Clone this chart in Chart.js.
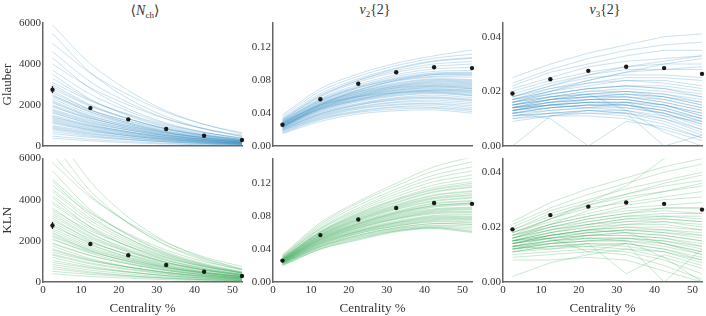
<!DOCTYPE html>
<html>
<head>
<meta charset="utf-8">
<script src="https://cdn.jsdelivr.net/npm/chart.js@4"></script>
<style>
body { margin: 0; background: #fff; width: 706px; height: 316px; position: relative; overflow: hidden; font-family: "Liberation Serif", "DejaVu Serif", serif; }
canvas { position: absolute; }
.ttl { position: absolute; top: 2px; width: 200px; text-align: center; font-size: 14px; color: #333; }
.ttl i { font-style: italic; }
.ttl sub { font-size: 9px; vertical-align: -3px; }
</style>
</head>
<body>
<div class="ttl" style="left:45px">&#10216;<i>N</i><sub>ch</sub>&#10217;</div>
<div class="ttl" style="left:275px"><i>v</i><sub>2</sub>{2}</div>
<div class="ttl" style="left:505px"><i>v</i><sub>3</sub>{2}</div>
<canvas id="c0"></canvas>
<canvas id="c1"></canvas>
<canvas id="c2"></canvas>
<canvas id="c3"></canvas>
<canvas id="c4"></canvas>
<canvas id="c5"></canvas>
<script>
// centrality bins (%)
const centrality = [2.5, 12.5, 22.5, 32.5, 42.5, 52.5];
const xTicks = [0, 10, 20, 30, 40, 50];
const nchTicks = [0, 2000, 4000, 6000];
const v2Ticks = [0, 0.04, 0.08, 0.12];
const v3Ticks = [0, 0.02, 0.04];

// experimental points
const expNch = [2750, 1850, 1300, 830, 500, 290];
const errNch = [170, 90, 60, 40, 25, 15];
const expV2 = [0.026, 0.057, 0.076, 0.090, 0.096, 0.095];
const errV2 = [0.001, 0.001, 0.001, 0.001, 0.001, 0.001];
const expV3 = [0.0192, 0.0244, 0.0275, 0.0290, 0.0285, 0.0264];
const errV3 = [0.0005, 0.0005, 0.0005, 0.0005, 0.0005, 0.0005];

// model design curves, Glauber
const glauberNch = [
  [5900, 4010, 2710, 1710, 1060, 590], [5500, 3580, 2310, 1430, 850, 470],
  [5000, 3550, 2500, 1650, 1050, 650], [4600, 3130, 2120, 1330, 830, 460],
  [4300, 2800, 1810, 1120, 670, 370], [4000, 2840, 2000, 1320, 840, 520],
  [3700, 2520, 1700, 1070, 670, 370], [3500, 2280, 1470, 910, 540, 300],
  [3300, 2240, 1520, 960, 590, 330], [3100, 2200, 1550, 1020, 650, 400],
  [2900, 1970, 1330, 840, 520, 290], [2700, 1760, 1130, 700, 420, 230],
  [2600, 1770, 1200, 750, 470, 260], [2450, 1740, 1230, 810, 510, 320],
  [2300, 1560, 1060, 670, 410, 230], [2150, 1400, 900, 560, 330, 180],
  [2000, 1360, 920, 580, 360, 200], [1900, 1350, 950, 630, 400, 250],
  [1750, 1190, 800, 510, 320, 175], [1650, 1070, 690, 430, 260, 140],
  [1500, 1020, 690, 435, 270, 150], [1400, 990, 700, 460, 295, 180],
  [1300, 880, 600, 380, 235, 130], [1200, 780, 500, 310, 185, 100],
  [1100, 750, 505, 320, 200, 110], [1000, 710, 500, 330, 210, 130],
  [900, 610, 415, 260, 160, 90], [800, 520, 335, 210, 125, 70],
  [700, 475, 320, 205, 125, 70], [600, 425, 300, 200, 125, 80],
  [480, 325, 220, 140, 86, 48], [380, 250, 160, 100, 60, 32],
  [3000, 2010, 1340, 830, 500, 270], [2800, 1930, 1320, 850, 540, 310],
  [2500, 1650, 1080, 660, 395, 215], [2400, 1660, 1130, 720, 450, 260],
  [2200, 1480, 990, 620, 380, 210], [2100, 1450, 1000, 650, 410, 240],
  [1950, 1290, 850, 530, 320, 175], [1800, 1240, 850, 545, 340, 195],
  [1700, 1150, 780, 490, 300, 165], [1600, 1110, 770, 500, 315, 185],
  [1450, 970, 650, 410, 250, 135], [1350, 930, 640, 410, 260, 150],
  [1250, 840, 560, 355, 215, 120], [1150, 800, 550, 355, 225, 130],
  [950, 650, 440, 280, 175, 100], [850, 575, 390, 250, 155, 88]
];
const glauberV2 = [
  [.038, .070, .088, .101, .110, .117], [.036, .067, .085, .098, .107, .112],
  [.034, .064, .082, .095, .104, .108], [.033, .062, .080, .092, .100, .103],
  [.032, .060, .078, .090, .097, .100], [.031, .058, .075, .087, .094, .096],
  [.030, .057, .073, .085, .091, .092], [.030, .055, .071, .082, .088, .089],
  [.029, .054, .069, .080, .085, .086], [.022, .050, .068, .080, .087, .088],
  [.028, .052, .066, .076, .081, .080], [.027, .051, .065, .074, .079, .078],
  [.027, .050, .064, .073, .077, .076], [.026, .049, .062, .071, .075, .074],
  [.026, .048, .061, .070, .073, .072], [.025, .047, .060, .068, .072, .070],
  [.025, .046, .059, .067, .070, .068], [.024, .045, .057, .065, .068, .066],
  [.024, .044, .056, .064, .067, .065], [.029, .050, .060, .065, .066, .062],
  [.023, .042, .054, .061, .064, .061], [.022, .041, .052, .059, .062, .059],
  [.022, .040, .051, .058, .060, .057], [.021, .039, .050, .056, .058, .055],
  [.021, .038, .048, .054, .056, .053], [.020, .037, .047, .053, .054, .051],
  [.019, .036, .046, .051, .052, .049], [.019, .035, .045, .050, .051, .047],
  [.018, .034, .043, .048, .049, .045], [.017, .033, .042, .047, .047, .044],
  [.016, .032, .041, .045, .046, .042], [.015, .030, .039, .043, .044, .040],
  [.031, .056, .072, .083, .089, .090], [.029, .055, .071, .081, .087, .087],
  [.028, .053, .068, .079, .084, .084], [.028, .052, .067, .077, .082, .081],
  [.027, .051, .066, .075, .080, .079], [.027, .050, .064, .073, .078, .077],
  [.026, .049, .063, .072, .076, .075], [.026, .048, .062, .071, .074, .073],
  [.025, .047, .061, .069, .073, .071], [.025, .046, .060, .068, .071, .070],
  [.024, .046, .058, .066, .069, .068], [.024, .045, .057, .065, .068, .067],
  [.023, .044, .056, .063, .066, .064], [.023, .043, .055, .062, .065, .062],
  [.032, .061, .080, .094, .103, .107], [.020, .039, .050, .057, .059, .056]
];
const glauberV3 = [
  [.025, .030, .034, .037, .040, .041], [.023, .028, .032, .035, .037, .038],
  [.022, .027, .030, .033, .035, .035], [.021, .025, .029, .031, .032, .033],
  [.020, .024, .027, .029, .030, .030], [.019, .023, .026, .028, .028, .028],
  [.018, .022, .025, .026, .026, .025], [.018, .021, .023, .025, .025, .024],
  [.017, .020, .022, .024, .024, .022], [.017, .019, .021, .022, .022, .020],
  [.016, .019, .021, .022, .021, .019], [.016, .018, .020, .021, .020, .018],
  [.015, .018, .019, .020, .019, .017], [.015, .017, .019, .019, .018, .016],
  [.015, .017, .018, .019, .018, .015], [.014, .016, .018, .018, .017, .014],
  [.014, .016, .017, .018, .016, .013], [.014, .015, .017, .017, .015, .012],
  [.013, .015, .016, .016, .015, .011], [.013, .015, .016, .016, .014, .010],
  [.013, .014, .015, .015, .013, .009], [.012, .014, .015, .015, .012, .008],
  [.012, .013, .014, .014, .012, .007], [.011, .013, .014, .013, .011, .006],
  [.011, .012, .013, .013, .010, .005], [.010, .012, .012, .012, .009, .004],
  [.010, .011, .012, .011, .008, .003], [.009, .011, .011, .010, .006, .002],
  [.016, .020, .024, .027, .030, .032], [.012, .010, .000, .009, .007, .003],
  [.000, .011, .013, .012, .000, .004], [.014, .017, .019, .013, .005, .000],
  [.017, .020, .023, .024, .023, .021], [.016, .019, .021, .022, .021, .018],
  [.016, .018, .020, .020, .019, .016], [.015, .018, .019, .020, .018, .015],
  [.015, .017, .018, .019, .017, .014], [.014, .017, .018, .018, .016, .013],
  [.014, .016, .017, .017, .015, .012], [.013, .016, .017, .017, .015, .011],
  [.013, .015, .016, .016, .014, .010], [.013, .015, .016, .015, .013, .010],
  [.012, .014, .015, .015, .013, .009], [.012, .014, .015, .014, .012, .008],
  [.018, .022, .026, .029, .031, .033], [.017, .021, .024, .027, .028, .029],
  [.014, .015, .014, .016, .011, .009], [.011, .012, .013, .012, .010, .006]
];

// model design curves, KLN
const klnNch = [
  [7500, 4880, 3150, 1950, 1160, 640], [6800, 4420, 2860, 1770, 1050, 580],
  [6200, 4220, 2850, 1800, 1120, 620], [5800, 4120, 2900, 1910, 1220, 750],
  [5400, 3510, 2270, 1400, 840, 460], [5000, 3400, 2300, 1450, 900, 500],
  [4700, 3340, 2350, 1550, 990, 610], [4400, 2990, 2020, 1280, 790, 440],
  [4100, 2670, 1720, 1070, 640, 350], [3800, 2580, 1750, 1100, 680, 380],
  [3500, 2490, 1750, 1160, 740, 455], [3300, 2240, 1520, 960, 590, 330],
  [3100, 2020, 1300, 810, 480, 265], [2900, 1970, 1330, 840, 520, 290],
  [2700, 1920, 1350, 890, 570, 350], [2500, 1700, 1150, 725, 450, 250],
  [2350, 1530, 990, 610, 365, 200], [2200, 1500, 1010, 640, 395, 220],
  [2050, 1460, 1025, 680, 430, 265], [1900, 1290, 875, 550, 340, 190],
  [1750, 1140, 735, 455, 270, 150], [1600, 1090, 735, 465, 290, 160],
  [1450, 1030, 725, 480, 305, 190], [1300, 880, 600, 380, 235, 130],
  [1200, 780, 505, 310, 185, 100], [1050, 715, 485, 305, 190, 105],
  [950, 675, 475, 315, 200, 125], [850, 580, 390, 245, 155, 85],
  [750, 490, 315, 195, 115, 65], [650, 440, 300, 190, 115, 65],
  [520, 370, 260, 170, 110, 68], [400, 270, 185, 115, 72, 40],
  [4900, 3230, 2110, 1320, 800, 440], [4500, 3100, 2120, 1360, 850, 480],
  [4200, 2860, 1930, 1220, 750, 420], [3900, 2690, 1850, 1200, 760, 440],
  [3600, 2380, 1550, 970, 590, 320], [3400, 2350, 1610, 1040, 650, 380],
  [3200, 2180, 1470, 930, 575, 320], [3000, 2100, 1460, 950, 600, 360],
  [2800, 1850, 1200, 750, 450, 245], [2600, 1790, 1220, 780, 480, 275],
  [2400, 1630, 1100, 700, 430, 240], [2250, 1570, 1090, 710, 450, 270],
  [2100, 1400, 920, 580, 350, 190], [1850, 1280, 880, 570, 355, 205],
  [1550, 1050, 710, 450, 280, 155], [1350, 930, 640, 410, 255, 145]
];
const klnV2 = [
  [.033, .072, .098, .120, .140, .152], [.032, .070, .096, .117, .135, .146],
  [.031, .068, .093, .113, .130, .140], [.031, .066, .090, .110, .126, .135],
  [.030, .065, .088, .107, .122, .130], [.030, .064, .086, .104, .118, .126],
  [.029, .062, .084, .101, .115, .122], [.029, .061, .082, .099, .112, .118],
  [.028, .060, .080, .096, .109, .115], [.028, .059, .079, .094, .106, .111],
  [.028, .058, .077, .092, .103, .108], [.027, .057, .076, .090, .101, .105],
  [.027, .056, .074, .088, .098, .102], [.027, .055, .073, .086, .096, .099],
  [.026, .054, .071, .084, .093, .096], [.026, .053, .070, .082, .091, .094],
  [.026, .052, .069, .081, .089, .091], [.025, .052, .068, .079, .087, .089],
  [.025, .051, .066, .077, .085, .086], [.025, .050, .065, .076, .083, .084],
  [.024, .049, .064, .074, .081, .082], [.024, .048, .062, .072, .079, .079],
  [.024, .047, .061, .071, .077, .077], [.023, .046, .060, .069, .075, .075],
  [.023, .045, .059, .068, .073, .072], [.023, .044, .057, .066, .071, .070],
  [.022, .043, .056, .065, .069, .068], [.022, .043, .055, .064, .068, .066],
  [.021, .042, .054, .063, .067, .064], [.021, .041, .053, .062, .066, .062],
  [.020, .040, .052, .062, .066, .061], [.020, .040, .051, .061, .065, .060],
  [.029, .061, .083, .100, .113, .120], [.028, .060, .081, .097, .110, .116],
  [.028, .058, .078, .093, .105, .110], [.027, .057, .076, .091, .102, .106],
  [.027, .056, .075, .089, .099, .103], [.026, .055, .072, .085, .095, .098],
  [.026, .054, .071, .084, .093, .096], [.026, .053, .070, .083, .092, .095],
  [.025, .052, .068, .080, .088, .090], [.025, .051, .067, .078, .086, .088],
  [.025, .050, .066, .077, .084, .085], [.024, .049, .063, .073, .080, .080],
  [.024, .048, .062, .072, .078, .078], [.023, .047, .061, .070, .076, .076],
  [.023, .046, .059, .068, .074, .073], [.022, .044, .057, .066, .071, .070]
];
const klnV3 = [
  [.022, .029, .034, .038, .042, .045], [.021, .027, .032, .036, .040, .043],
  [.020, .026, .030, .034, .037, .040], [.019, .025, .029, .032, .035, .037],
  [.019, .024, .028, .031, .033, .035], [.018, .023, .027, .029, .031, .033],
  [.018, .022, .025, .028, .030, .031], [.017, .021, .024, .027, .028, .029],
  [.017, .020, .023, .025, .027, .027], [.016, .020, .022, .024, .025, .025],
  [.016, .019, .021, .023, .024, .024], [.015, .018, .021, .022, .023, .022],
  [.015, .018, .020, .021, .022, .021], [.015, .017, .019, .020, .020, .019],
  [.014, .017, .018, .019, .019, .018], [.014, .016, .018, .019, .018, .017],
  [.014, .016, .017, .018, .017, .015], [.013, .015, .017, .017, .016, .014],
  [.013, .015, .016, .016, .015, .013], [.013, .014, .015, .016, .014, .011],
  [.012, .014, .015, .015, .013, .010], [.012, .013, .014, .014, .012, .008],
  [.011, .013, .014, .013, .011, .007], [.011, .012, .013, .012, .009, .005],
  [.010, .011, .012, .011, .008, .003], [.009, .010, .011, .010, .006, .001],
  [.008, .008, .009, .008, .004, .000], [.017, .023, .029, .035, .045, .050],
  [.002, .007, .010, .012, .011, .008], [.013, .012, .014, .003, .010, .006],
  [.015, .016, .011, .014, .000, .012], [.012, .014, .016, .015, .009, .000],
  [.017, .021, .024, .026, .027, .027], [.016, .020, .023, .025, .026, .025],
  [.016, .019, .022, .024, .024, .023], [.015, .019, .021, .023, .023, .022],
  [.015, .018, .020, .022, .022, .020], [.014, .017, .019, .021, .021, .019],
  [.014, .017, .019, .020, .019, .017], [.014, .016, .018, .019, .018, .016],
  [.013, .016, .017, .018, .017, .015], [.013, .015, .017, .017, .016, .013],
  [.012, .015, .016, .016, .015, .012], [.012, .014, .015, .015, .014, .011],
  [.018, .023, .028, .032, .036, .039], [.016, .021, .026, .030, .033, .036],
  [.011, .013, .013, .014, .012, .009], [.015, .017, .019, .018, .014, .010]
];

const blue = 'rgba(66, 146, 198, 0.28)';
const green = 'rgba(65, 171, 93, 0.28)';

Chart.defaults.font.family = '"Liberation Serif", "DejaVu Serif", serif';
Chart.defaults.color = '#333';

const panels = [
  { curves: glauberNch, exp: expNch, err: errNch, ticks: nchTicks, max: 6000, dec: 0, color: blue, smooth: 0.3, row: 0, col: 0, label: 'Glauber' },
  { curves: glauberV2, exp: expV2, err: errV2, ticks: v2Ticks, max: 0.15, dec: 2, color: blue, smooth: 0.3, row: 0, col: 1 },
  { curves: glauberV3, exp: expV3, err: errV3, ticks: v3Ticks, max: 0.045, dec: 2, color: blue, smooth: 0, row: 0, col: 2 },
  { curves: klnNch, exp: expNch, err: errNch, ticks: nchTicks, max: 6000, dec: 0, color: green, smooth: 0.3, row: 1, col: 0, label: 'KLN' },
  { curves: klnV2, exp: expV2, err: errV2, ticks: v2Ticks, max: 0.15, dec: 2, color: green, smooth: 0.3, row: 1, col: 1 },
  { curves: klnV3, exp: expV3, err: errV3, ticks: v3Ticks, max: 0.045, dec: 2, color: green, smooth: 0, row: 1, col: 2 }
];

const colLeft = [0, 230, 460];

panels.forEach((p, k) => {
  const cv = document.getElementById('c' + k);
  const bottom = p.row === 1;
  cv.width = 246;
  cv.height = bottom ? 166 : 156;
  cv.style.left = colLeft[p.col] + 'px';
  cv.style.top = (bottom ? 150 : 0) + 'px';

  const datasets = [{
    data: centrality.map((x, i) => ({ x: x, y: p.exp[i] })),
    showLine: false,
    pointRadius: 2.2,
    pointBackgroundColor: '#1a1a1a',
    pointBorderWidth: 0,
    clip: false
  }];
  p.curves.forEach(c => {
    datasets.push({
      data: centrality.map((x, i) => ({ x: x, y: c[i] })),
      borderColor: p.color,
      borderWidth: 1,
      pointRadius: 0,
      tension: p.smooth
    });
  });

  const errorBars = {
    id: 'errorBars' + k,
    afterDatasetsDraw(chart) {
      const ctx = chart.ctx, xs = chart.scales.x, ys = chart.scales.y;
      ctx.save();
      ctx.strokeStyle = '#1a1a1a';
      ctx.lineWidth = 1.2;
      p.exp.forEach((v, i) => {
        const px = xs.getPixelForValue(centrality[i]);
        ctx.beginPath();
        ctx.moveTo(px, ys.getPixelForValue(v - p.err[i]));
        ctx.lineTo(px, ys.getPixelForValue(v + p.err[i]));
        ctx.stroke();
      });
      ctx.restore();
    }
  };

  new Chart(cv, {
    type: 'line',
    data: { datasets },
    plugins: [errorBars],
    options: {
      responsive: false,
      animation: false,
      devicePixelRatio: 1,
      layout: { padding: { top: bottom ? 7 : 23, right: 0, left: 0, bottom: 0 } },
      plugins: { legend: { display: false }, tooltip: { enabled: false } },
      scales: {
        x: {
          type: 'linear',
          min: 0,
          max: 52.5,
          grid: { display: false, drawTicks: false },
          border: { color: '#666', width: 1.5 },
          afterBuildTicks: s => { s.ticks = xTicks.map(v => ({ value: v })); },
          afterFit: s => { s.height = bottom ? 34 : 10; },
          ticks: { display: bottom, font: { size: 11 }, padding: 2, maxRotation: 0 },
          title: { display: bottom, text: 'Centrality %', font: { size: 13 }, padding: { top: 0, bottom: 0 } }
        },
        y: {
          min: 0,
          max: p.max,
          grid: { display: false, drawTicks: false },
          border: { color: '#666', width: 1.5 },
          afterBuildTicks: s => { s.ticks = p.ticks.map(v => ({ value: v })); },
          afterFit: s => { s.width = 43; },
          ticks: { font: { size: 11 }, padding: 2, callback: v => v.toFixed(p.dec) },
          title: { display: !!p.label, text: p.label || '', font: { size: 13 }, padding: { top: 0, bottom: 0 } }
        }
      }
    }
  });
});
</script>
</body>
</html>
